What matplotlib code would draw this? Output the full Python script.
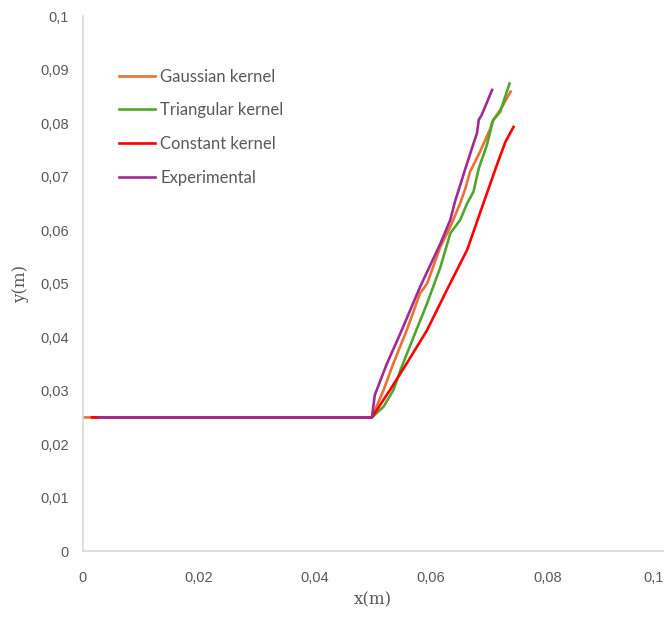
import matplotlib
matplotlib.use("Agg")
import matplotlib.pyplot as plt
from matplotlib.ticker import FuncFormatter

# Interface profiles y(x) in metres
gauss_x = [0.0, 0.0498, 0.0518, 0.0535, 0.0558, 0.0581, 0.0593, 0.0616, 0.0633, 0.0650,
           0.0659, 0.0667, 0.0684, 0.0702, 0.0705, 0.0722, 0.0737]
gauss_y = [0.025, 0.025, 0.0301, 0.0351, 0.0413, 0.0482, 0.0500, 0.0569, 0.0606, 0.0650,
           0.0678, 0.0709, 0.0746, 0.0790, 0.0802, 0.0830, 0.0859]

tri_x = [0.0016, 0.0498, 0.0518, 0.0535, 0.0547, 0.0570, 0.0593, 0.0616, 0.0633, 0.0650,
         0.0662, 0.0673, 0.0682, 0.0696, 0.0707, 0.0719, 0.0735]
tri_y = [0.025, 0.025, 0.0270, 0.0301, 0.0338, 0.0401, 0.0463, 0.0531, 0.0594, 0.0619,
         0.0650, 0.0672, 0.0715, 0.0759, 0.0806, 0.0821, 0.0874]

const_x = [0.0016, 0.0498, 0.0529, 0.0558, 0.0593, 0.0627, 0.0662, 0.0690, 0.0713, 0.0728, 0.0742]
const_y = [0.025, 0.025, 0.0301, 0.0351, 0.0413, 0.0488, 0.0563, 0.0650, 0.0721, 0.0765, 0.0793]

exp_x = [0.0028, 0.0498, 0.0503, 0.0524, 0.0547, 0.0581, 0.0616, 0.0633, 0.0641, 0.0659,
         0.0673, 0.0679, 0.0682, 0.0687, 0.0705]
exp_y = [0.025, 0.025, 0.0292, 0.0351, 0.0407, 0.0494, 0.0575, 0.0619, 0.0653, 0.0715,
         0.0762, 0.0781, 0.0806, 0.0815, 0.0862]

labels = ["Gaussian kernel", "Triangular kernel", "Constant kernel", "Experimental"]
colors = ["#E97132", "#4EA72E", "#FF0000", "#A02B93"]

x_ticks = [0, 0.02, 0.04, 0.06, 0.08, 0.1]
y_ticks = [0, 0.01, 0.02, 0.03, 0.04, 0.05, 0.06, 0.07, 0.08, 0.09, 0.1]

fig = plt.figure(figsize=(6.68, 6.2), dpi=100)
ax = fig.add_axes([0.124, 0.111, 0.869, 0.863])

series = [(gauss_x, gauss_y), (tri_x, tri_y), (const_x, const_y), (exp_x, exp_y)]
for (xs, ys), lab, col in zip(series, labels, colors):
    ax.plot(xs, ys, color=col, lw=1.9, label=lab, solid_joinstyle="round")

ax.set_xlim(0, 0.1)
ax.set_ylim(0, 0.1)
ax.set_xticks(x_ticks)
ax.set_yticks(y_ticks)


def comma(v, pos):
    s = f"{v:.2f}".rstrip("0").rstrip(".")
    return s.replace(".", ",")


ax.xaxis.set_major_formatter(FuncFormatter(comma))
ax.yaxis.set_major_formatter(FuncFormatter(comma))

for side in ("top", "right"):
    ax.spines[side].set_visible(False)
for side in ("left", "bottom"):
    ax.spines[side].set_color("#D9D9D9")
    ax.spines[side].set_linewidth(1.2)

ax.tick_params(axis="both", length=0, labelsize=10.5, labelcolor="#595959")
ax.tick_params(axis="x", pad=14)
ax.tick_params(axis="y", pad=10)
for t in ax.get_xticklabels() + ax.get_yticklabels():
    t.set_fontfamily("Liberation Sans")
# keep the last x label inside the figure
ax.get_xticklabels()[-1].set_horizontalalignment("right")

ax.set_xlabel("x(m)", fontfamily="DejaVu Serif", fontsize=12, color="#595959", labelpad=5)
ax.set_ylabel("y(m)", fontfamily="DejaVu Serif", fontsize=12, color="#595959", labelpad=8)

leg = ax.legend(loc="upper left", bbox_to_anchor=(0.037, 0.93), frameon=False,
                handlelength=2.15, handletextpad=0.3,
                labelspacing=1.06, prop={"family": "Lato", "size": 12})
for t in leg.get_texts():
    t.set_color("#595959")

fig.savefig("out.png", dpi=100)
